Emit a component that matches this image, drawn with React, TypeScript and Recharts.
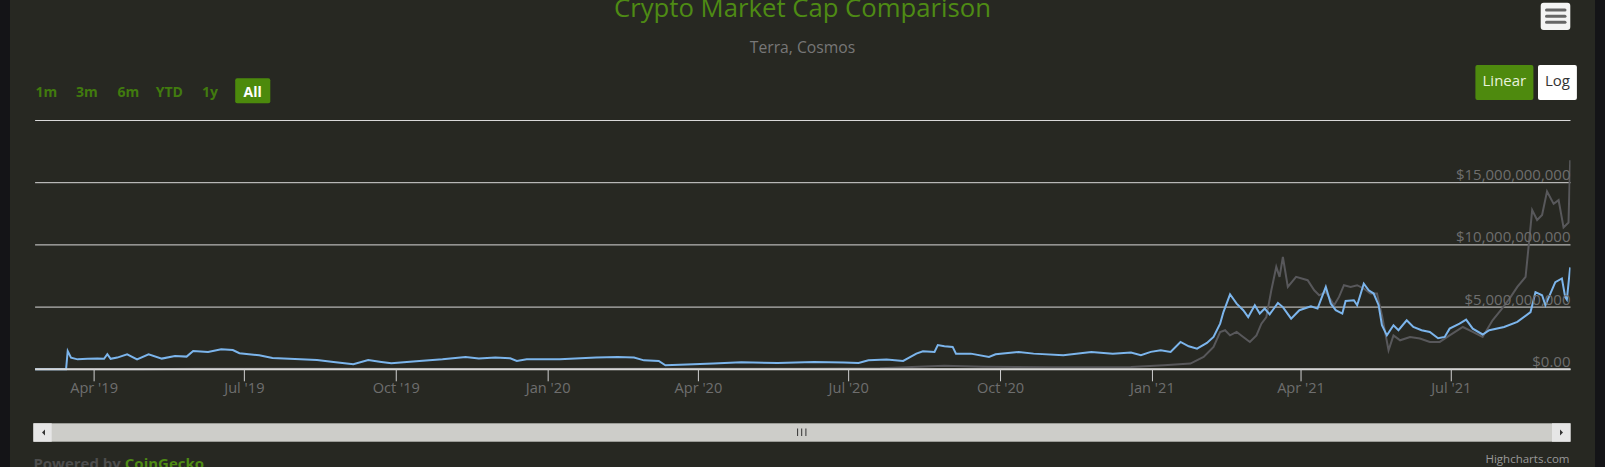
import React from 'react';
import { LineChart, Line, XAxis, YAxis, CartesianGrid } from 'recharts';

// Cosmos market cap (billions USD)
const cosmosDates = [
  '2019-02-24', '2019-03-15', '2019-03-16', '2019-03-18', '2019-03-22', '2019-03-28', '2019-04-03', '2019-04-07',
  '2019-04-09', '2019-04-11', '2019-04-15', '2019-04-21', '2019-04-27', '2019-05-04', '2019-05-12', '2019-05-20',
  '2019-05-27', '2019-05-31', '2019-06-09', '2019-06-17', '2019-06-24', '2019-06-28', '2019-07-10', '2019-07-18',
  '2019-08-04', '2019-08-14', '2019-08-24', '2019-09-05', '2019-09-14', '2019-09-22', '2019-09-28', '2019-10-15',
  '2019-10-29', '2019-11-12', '2019-11-20', '2019-11-30', '2019-12-09', '2019-12-13', '2019-12-19', '2020-01-08',
  '2020-01-30', '2020-02-12', '2020-02-22', '2020-02-28', '2020-03-08', '2020-03-12', '2020-03-25', '2020-04-10',
  '2020-04-27', '2020-05-19', '2020-06-10', '2020-06-28', '2020-07-07', '2020-07-13', '2020-07-24', '2020-08-03',
  '2020-08-11', '2020-08-15', '2020-08-22', '2020-08-24', '2020-08-28', '2020-09-02', '2020-09-04', '2020-09-13',
  '2020-09-24', '2020-09-28', '2020-10-12', '2020-10-21', '2020-11-08', '2020-11-25', '2020-12-08', '2020-12-19',
  '2020-12-25', '2020-12-31', '2021-01-06', '2021-01-12', '2021-01-18', '2021-01-23', '2021-01-28', '2021-02-03',
  '2021-02-07', '2021-02-11', '2021-02-13', '2021-02-17', '2021-02-21', '2021-02-25', '2021-02-28', '2021-03-04',
  '2021-03-07', '2021-03-10', '2021-03-13', '2021-03-18', '2021-03-21', '2021-03-26', '2021-03-31', '2021-04-07',
  '2021-04-11', '2021-04-16', '2021-04-19', '2021-04-22', '2021-04-26', '2021-04-28', '2021-05-03', '2021-05-05',
  '2021-05-09', '2021-05-12', '2021-05-15', '2021-05-18', '2021-05-20', '2021-05-23', '2021-05-27', '2021-05-30',
  '2021-06-04', '2021-06-08', '2021-06-13', '2021-06-18', '2021-06-23', '2021-06-27', '2021-06-30', '2021-07-06',
  '2021-07-10', '2021-07-14', '2021-07-20', '2021-07-24', '2021-08-02', '2021-08-10', '2021-08-18', '2021-08-21',
  '2021-08-25', '2021-08-27', '2021-09-02', '2021-09-06', '2021-09-08', '2021-09-09', '2021-09-11',
];
const cosmosCap = [
  0, 0, 1.47, 0.94, 0.8, 0.84, 0.86, 0.84,
  1.21, 0.84, 0.94, 1.21, 0.8, 1.21, 0.86, 1.07,
  1.02, 1.47, 1.39, 1.61, 1.55, 1.29, 1.13, 0.91,
  0.8, 0.75, 0.59, 0.4, 0.75, 0.59, 0.48, 0.67,
  0.8, 0.99, 0.86, 0.94, 0.88, 0.67, 0.8, 0.8,
  0.94, 0.99, 0.94, 0.72, 0.67, 0.32, 0.38, 0.46,
  0.56, 0.51, 0.59, 0.54, 0.51, 0.72, 0.78, 0.67,
  1.26, 1.45, 1.39, 1.95, 1.85, 1.8, 1.26, 1.26,
  0.99, 1.21, 1.39, 1.26, 1.13, 1.39, 1.26, 1.35,
  1.13, 1.4, 1.53, 1.4, 2.2, 1.85, 1.66, 2.12,
  2.6, 3.67, 4.6, 6.03, 5.28, 4.75, 4.2, 5.15,
  4.48, 4.88, 4.42, 5.34, 5.0, 4.07, 4.75, 5.07,
  4.88, 6.62, 5.28, 4.75, 4.48, 5.5, 5.55, 5.15,
  6.89, 6.35, 6.09, 5.15, 3.54, 2.73, 3.54, 3.14,
  3.94, 3.4, 3.14, 3.0, 2.5, 2.6, 3.27, 3.67,
  4.0, 3.27, 2.8, 3.14, 3.4, 3.81, 4.6, 6.2,
  5.95, 5.15, 7.0, 7.3, 5.8, 5.6, 8.2,
];

// Terra market cap (billions USD)
const terraDates = [
  '2019-02-24', '2019-05-01', '2019-06-01', '2019-09-01', '2019-12-01', '2020-03-01', '2020-06-01', '2020-07-20',
  '2020-08-12', '2020-08-28', '2020-09-20', '2020-11-01', '2020-12-19', '2021-01-08', '2021-01-24', '2021-02-01',
  '2021-02-07', '2021-02-11', '2021-02-14', '2021-02-17', '2021-02-21', '2021-02-25', '2021-03-01', '2021-03-05',
  '2021-03-08', '2021-03-11', '2021-03-14', '2021-03-17', '2021-03-19', '2021-03-21', '2021-03-24', '2021-03-29',
  '2021-04-05', '2021-04-09', '2021-04-12', '2021-04-16', '2021-04-21', '2021-04-24', '2021-04-27', '2021-05-01',
  '2021-05-05', '2021-05-09', '2021-05-13', '2021-05-17', '2021-05-20', '2021-05-24', '2021-05-27', '2021-05-31',
  '2021-06-06', '2021-06-12', '2021-06-18', '2021-06-24', '2021-06-30', '2021-07-08', '2021-07-14', '2021-07-20',
  '2021-07-26', '2021-07-31', '2021-08-06', '2021-08-10', '2021-08-15', '2021-08-17', '2021-08-19', '2021-08-22',
  '2021-08-25', '2021-08-28', '2021-09-01', '2021-09-04', '2021-09-07', '2021-09-10', '2021-09-11',
];
const terraCap = [
  0, 0, 0.05, 0.04, 0.03, 0.04, 0.05, 0.08,
  0.2, 0.28, 0.2, 0.17, 0.19, 0.32, 0.46, 1.0,
  1.8, 3.0, 3.14, 2.73, 3.0, 2.6, 2.2, 2.73,
  3.67, 4.2, 6.35, 8.23, 7.43, 9.03, 6.62, 7.43,
  7.16, 6.35, 5.95, 6.22, 5.15, 5.82, 6.76, 6.62,
  6.76, 6.49, 6.09, 6.09, 4.34, 1.53, 2.73, 2.33,
  2.6, 2.47, 2.2, 2.2, 2.73, 3.4, 3.0, 2.6,
  3.94, 4.75, 5.82, 6.62, 7.43, 10.1, 12.8, 12.0,
  12.4, 14.3, 13.3, 13.6, 11.4, 11.8, 16.8,
];

const quarterDates = ['2019-04-01', '2019-07-01', '2019-10-01', '2020-01-01', '2020-04-01', '2020-07-01', '2020-10-01', '2021-01-01', '2021-04-01', '2021-07-01'];
const quarterLabels = ["Apr '19", "Jul '19", "Oct '19", "Jan '20", "Apr '20", "Jul '20", "Oct '20", "Jan '21", "Apr '21", "Jul '21"];
const capTicks = [0, 5, 10, 15, 20];
const rangeButtons = ['1m', '3m', '6m', 'YTD', '1y', 'All'];
const rangeCenters = [46.5, 87, 128.5, 169.3, 210, 252.7];

const ts = (d: string) => Date.parse(d + 'T00:00:00Z');
const xStart = Date.UTC(2019, 1, 24, 6);
const xEnd = Date.UTC(2021, 8, 11, 5);

const cosmosData = cosmosDates.map((d, i) => ({ t: ts(d), v: cosmosCap[i] }));
const terraData = terraDates.map((d, i) => ({ t: ts(d), v: terraCap[i] }));
const xTicks = quarterDates.map(ts);

const FONT = '"Open Sans", "DejaVu Sans", sans-serif';
const GREEN = '#4e8b14';

const fmtCap = (v: number) => (v === 0 ? '$0.00' : '$' + (v * 1e9).toLocaleString('en-US'));

const XTick = (props: any) => {
  const { x, y, payload } = props;
  const i = xTicks.indexOf(payload.value);
  return (
    <text x={x} y={y + 9.5} textAnchor="middle" fill="#6e6e6e" fontSize={14.6} fontFamily={FONT}>
      {quarterLabels[i]}
    </text>
  );
};

const YTick = (props: any) => {
  const { x, y, payload } = props;
  if (payload.value === 20) return <g />;
  return (
    <text x={x} y={y - 2.6} textAnchor="end" fill="#6e6e6e" fontSize={15} fontFamily={FONT}>
      {fmtCap(payload.value)}
    </text>
  );
};

export default function App() {
  return (
    <div style={{ position: 'absolute', left: 0, top: 0, width: 1605, height: 467, background: '#141417', overflow: 'hidden' }}>
      <div style={{ position: 'absolute', left: 10.3, top: 0, width: 1584.3, height: 467, background: '#272822' }} />
      <div style={{ position: 'absolute', left: 0, top: 0 }}>
        <LineChart width={1605} height={467} margin={{ top: 120.5, right: 34.5, left: 35.1, bottom: 67.7 }}>
          <CartesianGrid horizontal vertical={false} stroke="#d9d9d9" />
          <XAxis
            dataKey="t"
            type="number"
            domain={[xStart, xEnd]}
            allowDataOverflow
            ticks={xTicks}
            height={30}
            tickSize={12}
            tickMargin={2}
            axisLine={{ stroke: '#d6d6d6', strokeWidth: 2 }}
            tickLine={{ stroke: '#cfcfcf' }}
            tick={XTick}
          />
          <YAxis
            type="number"
            orientation="right"
            mirror
            width={1}
            domain={[0, 20]}
            ticks={capTicks}
            axisLine={false}
            tickLine={false}
            tickSize={0}
            tickMargin={0}
            tick={YTick}
          />
          <Line data={terraData} dataKey="v" name="Terra" type="linear" stroke="#58585b" strokeWidth={2} dot={false} isAnimationActive={false} />
          <Line data={cosmosData} dataKey="v" name="Cosmos" type="linear" stroke="#7cb5ec" strokeWidth={2} dot={false} isAnimationActive={false} />
        </LineChart>
      </div>
      <svg width={1605} height={467} style={{ position: 'absolute', left: 0, top: 0, pointerEvents: 'none' }}>
        <text x={802.5} y={16.7} textAnchor="middle" fill={GREEN} fontSize={25.7} fontFamily={FONT}>
          Crypto Market Cap Comparison
        </text>
        <text x={802.5} y={53.3} textAnchor="middle" fill="#777" fontSize={15.7} fontFamily={FONT}>
          Terra, Cosmos
        </text>

        <rect x={235.2} y={78.3} width={35.1} height={25} rx={2} fill="#4c8a0c" />
        {rangeButtons.map((b, i) => (
          <text key={b} x={rangeCenters[i]} y={96.7} textAnchor="middle" fontSize={14} fontWeight="bold" fontFamily={FONT} fill={b === 'All' ? '#ffffff' : '#417b0e'}>
            {b}
          </text>
        ))}

        <rect x={1475.4} y={65} width={58} height={35} rx={2} fill="#4e8a0e" />
        <text x={1504.4} y={86} textAnchor="middle" fontSize={15} fontFamily={FONT} fill="#e8f2dc">Linear</text>
        <rect x={1538} y={65} width={38.9} height={35} rx={2} fill="#ffffff" />
        <text x={1557.5} y={86} textAnchor="middle" fontSize={15} fontFamily={FONT} fill="#333">Log</text>

        <rect x={1540.7} y={2.7} width={29.6} height={27.3} rx={3} fill="#f4f4f4" />
        {[10, 16.3, 22.3].map((y) => (
          <line key={y} x1={1546.5} x2={1565} y1={y} y2={y} stroke="#666" strokeWidth={3} strokeLinecap="round" />
        ))}

        <rect x={33.4} y={423.3} width={1537.1} height={18.4} fill="#cdcdc9" />
        <rect x={33.4} y={423.3} width={18.3} height={18.4} fill="#e6e6e6" />
        <rect x={1552} y={423.3} width={18.5} height={18.4} fill="#e6e6e6" />
        <path d="M 45 429.5 L 45 435.5 L 42 432.5 Z" fill="#333" />
        <path d="M 1560 429.5 L 1560 435.5 L 1563 432.5 Z" fill="#333" />
        {[797.6, 801.7, 805.9].map((x) => (
          <line key={x} x1={x} x2={x} y1={428.5} y2={436} stroke="#333" strokeWidth={1} />
        ))}

        <text x={1569.5} y={463.3} textAnchor="end" fontSize={11.5} fontFamily={FONT} fill="#999">Highcharts.com</text>
        <text x={33.4} y={469} fontSize={15} fontWeight="bold" fontFamily={FONT}>
          <tspan fill="#4d4d4d">Powered by </tspan>
          <tspan fill={GREEN}>CoinGecko</tspan>
        </text>
      </svg>
    </div>
  );
}
